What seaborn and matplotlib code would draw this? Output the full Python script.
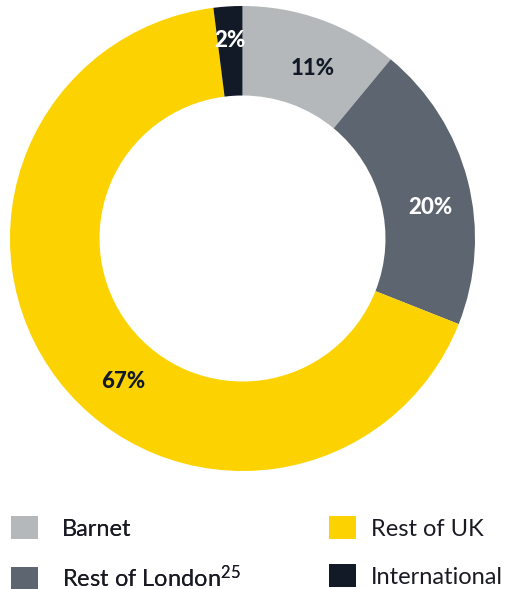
import matplotlib
matplotlib.use("Agg")
import numpy as np
import matplotlib.pyplot as plt
from matplotlib.patches import Patch
import seaborn as sns

# Share of respondents by location
categories = ["Barnet", "Rest of London", "Rest of UK", "International"]
legend_labels = ["Barnet", "Rest of London$^{25}$", "Rest of UK", "International"]
shares = [11, 20, 67, 2]
palette_hex = ["#b4b8ba", "#5d6570", "#fcd300", "#121a28"]
label_colors = ["#121a28", "white", "#121a28", "white"]
# angular nudge (degrees, clockwise) and radial placement of each percentage label
label_nudge = [2.6, 5.0, -12.4, 0.1]
label_radius = [0.79, 0.82, 0.80, 0.855]

sns.set_theme(style="white")
plt.rcParams["font.family"] = ["Lato", "DejaVu Sans"]
plt.rcParams["mathtext.fontset"] = "custom"
plt.rcParams["mathtext.rm"] = "Lato"
plt.rcParams["mathtext.it"] = "Lato"
colors = sns.color_palette(palette_hex)

fig = plt.figure(figsize=(5.18, 5.89), dpi=100)
W, H = 518, 589
ax = fig.add_axes([10 / W, (H - 471) / H, 465 / W, 465 / H])

wedges, _ = ax.pie(
    shares,
    colors=colors,
    startangle=90,
    counterclock=False,
    radius=1.0,
    wedgeprops=dict(width=0.385, edgecolor="none"),
)
for w, share, c, nudge, r in zip(wedges, shares, label_colors, label_nudge, label_radius):
    mid = 0.5 * (w.theta1 + w.theta2) - nudge
    a = np.deg2rad(mid)
    ax.text(r * np.cos(a), r * np.sin(a), f"{share}%", ha="center", va="center",
            color=c, fontsize=16, fontweight=900)
ax.set_xlim(-1, 1)
ax.set_ylim(-1, 1)
ax.set_aspect("equal")
ax.axis("off")

handles = [Patch(facecolor=c, edgecolor="none") for c in colors]
legend_style = dict(
    loc="upper left",
    frameon=False,
    fontsize=17,
    labelcolor="#1a1a24",
    handlelength=1.14,
    handleheight=1.14,
    labelspacing=1.03,
    borderpad=0,
    borderaxespad=0,
)
# two legend columns, laid out independently
leg1 = fig.legend(handles[:2], legend_labels[:2], bbox_to_anchor=(11 / W, 1 - 516 / H),
                  handletextpad=1.0, **legend_style)
fig.add_artist(leg1)
fig.legend(handles[2:], legend_labels[2:], bbox_to_anchor=(329 / W, 1 - 516 / H),
           handletextpad=0.62, **legend_style)

fig.savefig("out.png", dpi=100, facecolor="white")
